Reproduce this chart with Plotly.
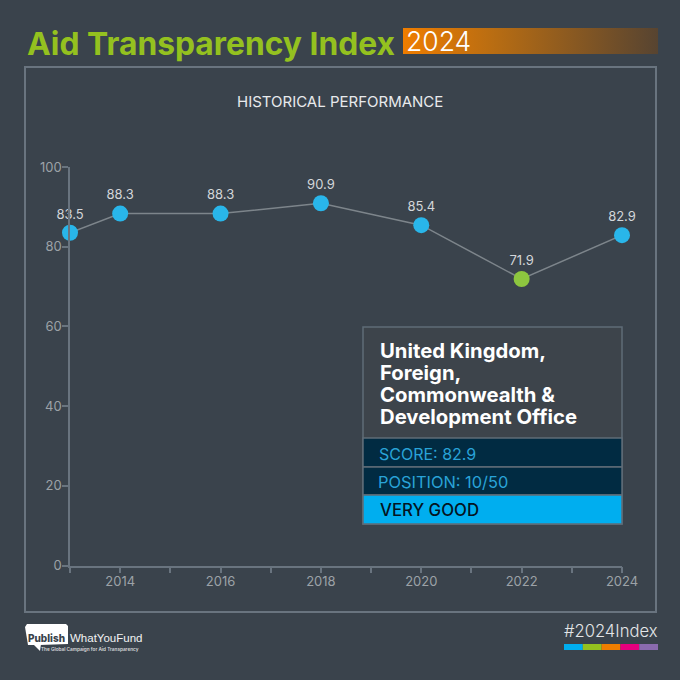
import plotly.graph_objects as go

years = [2013, 2014, 2016, 2018, 2020, 2022, 2024]
scores = [83.5, 88.3, 88.3, 90.9, 85.4, 71.9, 82.9]
point_colors = ["#29b6ea", "#29b6ea", "#29b6ea", "#29b6ea", "#29b6ea", "#8dc63f", "#29b6ea"]
y_ticks = [0, 20, 40, 60, 80, 100]
x_ticks = list(range(2013, 2025))
x_labels = ["", "2014", "", "2016", "", "2018", "", "2020", "", "2022", "", "2024"]
strip_colors = ["#00aeef", "#94c11f", "#ef7d00", "#e6007e", "#8a6bae"]
org_lines = ["United Kingdom,", "Foreign,", "Commonwealth &", "Development Office"]

BG = "#3a434c"
FRAME = "#69747f"
AXIS = "#69747f"
TICKTXT = "#9ca2a7"
FONT = "Inter"
S = 680.0


def box(x0, y0, x1, y1, fill, line=None, width=1):
    return dict(type="rect", xref="x2", yref="y2", x0=x0, x1=x1, y0=y0, y1=y1,
                fillcolor=fill, line=dict(color=line or fill, width=width if line else 0), layer="above")


def label(x, y, text, size, color, anchor="left", weight=400, family=FONT):
    return dict(xref="x2", yref="y2", x=x, y=y, text=text, showarrow=False, xanchor=anchor,
                yanchor="middle", font=dict(family=family, size=size, color=color, weight=weight))


fig = go.Figure()

# gradient strip behind the year, in pixel coords on a hidden axis pair
fig.add_trace(go.Scatter(
    x=[403, 658, 658, 403, 403], y=[28, 28, 54, 54, 28], xaxis="x2", yaxis="y2",
    mode="lines", line=dict(width=0), fill="toself",
    fillgradient=dict(type="horizontal", colorscale=[[0, "#ef7d00"], [0.35, "#b96d12"], [1, "#574431"]]),
    hoverinfo="skip", showlegend=False,
))

fig.add_trace(go.Scatter(
    x=years, y=scores, mode="lines+markers+text",
    text=[str(s) for s in scores], textposition="top center",
    textfont=dict(family=FONT, size=13, color="#d3d6d9"),
    line=dict(color="#7d858b", width=1.5),
    marker=dict(size=16, color=point_colors),
    cliponaxis=False, hoverinfo="skip", showlegend=False,
))

shapes = [
    box(25, 67, 656, 612, "rgba(0,0,0,0)", FRAME, 2),
    # info panel
    box(363, 327, 622, 524, "#3d444b", "#5f6c77", 1.5),
    box(363, 438, 622, 467, "#012b42", "#5f6c77", 1.5),
    box(363, 467, 622, 495, "#012b42", "#5f6c77", 1.5),
    box(363, 495, 622, 524, "#00aeef", "#5f6c77", 1.5),
    # logo bubble
    dict(type="path", xref="x2", yref="y2", layer="above", fillcolor="white", line=dict(width=0),
         path="M 27,624 L 66,624 L 68,626 L 68,644 L 40,645 L 28,645 L 25,627 Z"),
    dict(type="path", xref="x2", yref="y2", layer="above", fillcolor="white", line=dict(width=0),
         path="M 33,644 L 41,644 L 40,651 Z"),
]
for i, c in enumerate(strip_colors):
    shapes.append(box(564 + i * 18.8, 644, 564 + (i + 1) * 18.8, 650, c))

annotations = [
    label(25, 43, "Aid Transparency Index", 31.8, "#94c11f", weight=700),
    label(404, 41, "2024", 26.5, "#ffffff", weight=300),
    label(340, 101.5, "HISTORICAL PERFORMANCE", 15, "#e8eaec", "center"),
    label(377, 453.5, "SCORE: 82.9", 16, "#29a3d8"),
    label(376, 482, "POSITION: 10/50", 16.4, "#29a3d8"),
    label(378, 510, "VERY GOOD", 16.8, "#04141f", weight=500),
    label(660, 631, "#2024Index", 16.6, "#e4e6e8", "right", weight=300),
    label(46.5, 637.5, "Publish", 10, "#39424b", "center", weight=800),
    label(68, 638, "WhatYouFund", 11.5, "#f2f3f4", family="Liberation Sans"),
    label(39, 649, "The Global Campaign for Aid Transparency", 4.7, "#d8dadc", weight=600),
]
for i, line in enumerate(org_lines):
    annotations.append(label(378, 350 + i * 22.3, line, 20.3, "#ffffff", weight=700))

fig.update_layout(
    width=680, height=680, margin=dict(l=0, r=0, t=0, b=0),
    paper_bgcolor=BG, plot_bgcolor="rgba(0,0,0,0)", showlegend=False,
    shapes=shapes, annotations=annotations,
    xaxis=dict(domain=[70 / S, 622 / S], range=[2013, 2024], tickvals=x_ticks, ticktext=x_labels, automargin=False,
               ticks="outside", ticklen=6, tickcolor=AXIS, tickwidth=1.5, showgrid=False, zeroline=False,
               ticklabelstandoff=-3,
               showline=True, linecolor=AXIS, linewidth=1.5, tickfont=dict(family=FONT, size=13, color=TICKTXT)),
    yaxis=dict(domain=[1 - 565.5 / S, 1 - 167 / S], range=[0, 100], tickvals=y_ticks, automargin=False,
               ticks="outside", ticklen=6, tickcolor=AXIS, tickwidth=1.5, showgrid=False, zeroline=False,
               ticklabelstandoff=-2,
               showline=True, linecolor=AXIS, linewidth=1.5, tickfont=dict(family=FONT, size=13, color=TICKTXT)),
    xaxis2=dict(domain=[0, 1], range=[0, 680], visible=False, anchor="y2", automargin=False),
    yaxis2=dict(domain=[0, 1], range=[680, 0], visible=False, anchor="x2", automargin=False),
)

fig.write_html("out.html", config=dict(displayModeBar=False), post_script="document.body.style.margin='0';")
